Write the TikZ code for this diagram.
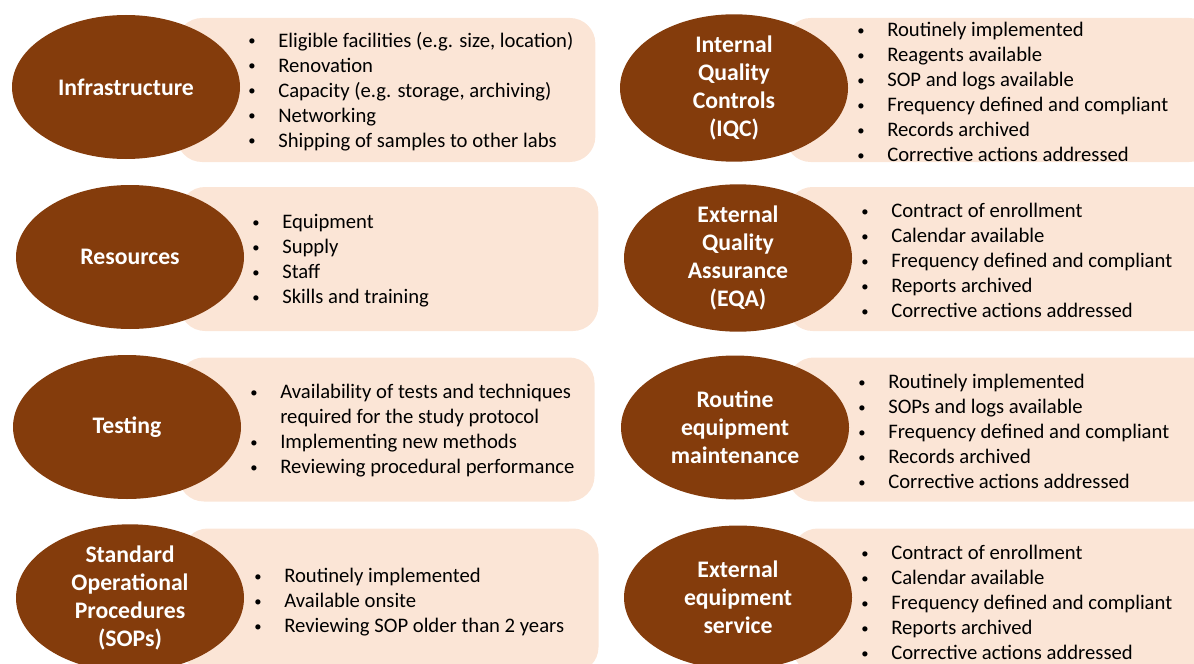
\documentclass[tikz,border=0pt]{standalone}
\usepackage{fontspec}
\setmainfont{Carlito}
\usetikzlibrary{shapes.geometric}
\definecolor{topicbrown}{HTML}{843C0C}
\definecolor{panelpeach}{HTML}{FBE5D6}
\newcommand{\itm}[1]{\makebox[22.5pt][l]{\raisebox{1pt}{\fontsize{11}{11}\selectfont\textbullet}}#1}
\newcommand{\gap}{\hspace*{22.5pt}}

\begin{document}
\begin{tikzpicture}[x=0.75pt, y=-0.75pt,
  topic/.style = {ellipse, fill=topicbrown, text=white, font=\fontsize{17.8}{21}\selectfont\bfseries, align=center, minimum width=171pt, minimum height=108pt, inner sep=0pt},
  panel/.style = {fill=panelpeach, rounded corners=19pt, minimum height=108pt, inner sep=0pt},
  items/.style = {anchor=west, align=left, font=\fontsize{15.5}{18.75}\selectfont, inner sep=0pt}]
  \useasboundingbox (0,0) rectangle (1194,663);
  % panels behind
  \node[panel, minimum width=314pt] (p1) at (386,90) {};
  \node[panel, minimum width=314pt] (p2) at (389,259) {};
  \node[panel, minimum width=312pt] (p3) at (386.5,429.5) {};
  \node[panel, minimum width=312pt] (p4) at (390.5,600.5) {};
  \node[panel, minimum width=322pt] (p5) at (1000,90) {};
  \node[panel, minimum width=322pt] (p6) at (1002,259) {};
  \node[panel, minimum width=322pt] (p7) at (1003,429.5) {};
  \node[panel, minimum width=322pt] (p8) at (1007,600.5) {};
  % topics
  \node[topic] (infra) at (126,87) {Infrastructure};
  \node[topic] (res) at (130,257) {Resources};
  \node[topic] (test) at (127,427) {Testing};
  \node[topic] (sop) at (130,598) {Standard\\Operational\\Procedures\\(SOPs)};
  \node[topic] (iqc) at (734,88) {Internal\\Quality\\Controls\\(IQC)};
  \node[topic] (eqa) at (738,258) {External\\Quality\\Assurance\\(EQA)};
  \node[topic] (maint) at (735,427.5) {Routine\\equipment\\maintenance};
  \node[topic] (serv) at (738,597.5) {External\\equipment\\service};
  % lists
  \node[items] (infraitems) at (248,91.5) {\itm{Eligible facilities (e.g. size, location)}\\\itm{Renovation}\\\itm{Capacity (e.g. storage, archiving)}\\\itm{Networking}\\\itm{Shipping of samples to other labs}};
  \node[items] (resitems) at (252,261) {\itm{Equipment}\\\itm{Supply}\\\itm{Staff}\\\itm{Skills and training}};
  \node[items] (testitems) at (250,431) {\itm{Availability of tests and techniques}\\\gap required for the study protocol\\\itm{Implementing new methods}\\\itm{Reviewing procedural performance}};
  \node[items] (sopitems) at (254,602.5) {\itm{Routinely implemented}\\\itm{Available onsite}\\\itm{Reviewing SOP older than 2 years}};
  \node[items] (iqcitems) at (857,92) {\itm{Routinely implemented}\\\itm{Reagents available}\\\itm{SOP and logs available}\\\itm{Frequency defined and compliant}\\\itm{Records archived}\\\itm{Corrective actions addressed}};
  \node[items] (eqaitems) at (861,260.5) {\itm{Contract of enrollment}\\\itm{Calendar available}\\\itm{Frequency defined and compliant}\\\itm{Reports archived}\\\itm{Corrective actions addressed}};
  \node[items] (maintitems) at (858,431.5) {\itm{Routinely implemented}\\\itm{SOPs and logs available}\\\itm{Frequency defined and compliant}\\\itm{Records archived}\\\itm{Corrective actions addressed}};
  \node[items] (servitems) at (861,602.5) {\itm{Contract of enrollment}\\\itm{Calendar available}\\\itm{Frequency defined and compliant}\\\itm{Reports archived}\\\itm{Corrective actions addressed}};
\end{tikzpicture}
\end{document}
